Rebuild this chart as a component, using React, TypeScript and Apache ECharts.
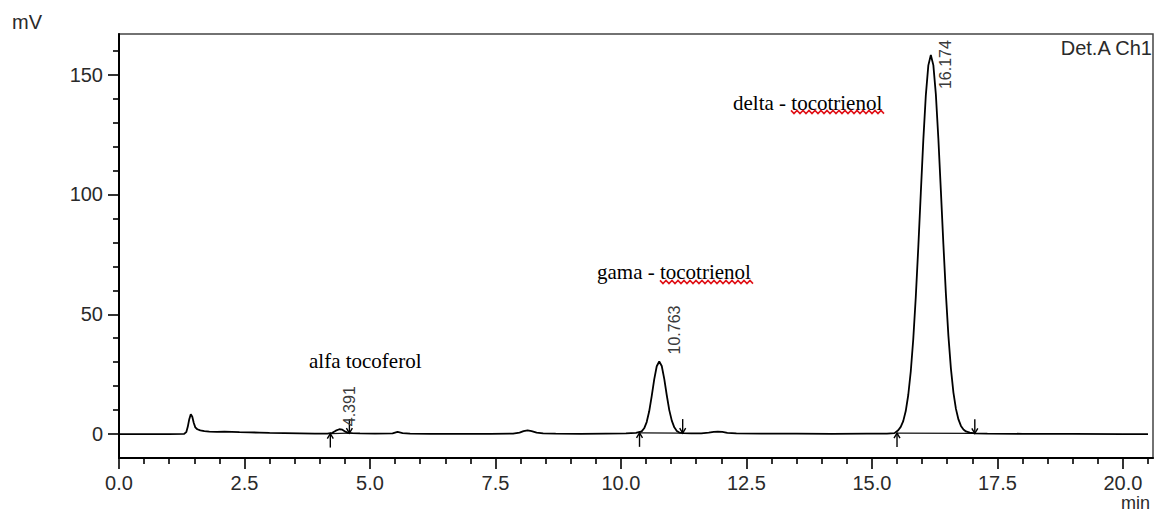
import React, { useEffect, useRef } from "react";
import * as echarts from "echarts";

// ---- axis ticks ----
const xMajorTicks = [0, 2.5, 5, 7.5, 10, 12.5, 15, 17.5, 20];
const xMinorTicks = [0.5, 1, 1.5, 2, 3, 3.5, 4, 4.5, 5.5, 6, 6.5, 7, 8, 8.5, 9, 9.5, 10.5, 11, 11.5, 12, 13, 13.5, 14, 14.5, 15.5, 16, 16.5, 17, 18, 18.5, 19, 19.5, 20.5];
const yMajorTicks = [0, 50, 100, 150];
const yMinorTicks = [10, 20, 30, 40, 60, 70, 80, 90, 110, 120, 130, 140, 160];

// ---- chromatogram trace: [time (min), signal (mV)] ----
const chromatogram: [number, number][] = [
  [0, 0], [0.5, 0], [1.0, 0], [1.3, 0.1], [1.34, 0.8], [1.37, 3.0], [1.4, 6.2], [1.43, 8.3], [1.46, 7.2],
  [1.49, 4.6], [1.52, 2.8], [1.56, 2.0], [1.62, 1.5], [1.7, 1.2], [1.8, 1.0], [1.95, 0.9], [2.1, 1.0],
  [2.25, 0.9], [2.4, 0.8], [2.6, 0.7], [2.8, 0.6], [3.0, 0.5], [3.3, 0.4], [3.6, 0.3], [3.9, 0.2],
  [4.15, 0.2], [4.25, 0.5], [4.32, 1.4], [4.39, 2.0], [4.45, 1.8], [4.51, 1.0], [4.56, 0.5], [4.65, 0.4],
  [4.8, 0.3], [5.1, 0.2], [5.45, 0.3], [5.55, 0.9], [5.65, 0.4], [5.8, 0.2], [6.2, 0.1], [6.8, 0.1],
  [7.4, 0.1], [7.85, 0.2], [7.98, 0.6], [8.06, 1.2], [8.14, 1.5], [8.22, 1.2], [8.32, 0.6], [8.45, 0.3],
  [8.7, 0.2], [9.2, 0.1], [9.7, 0.2], [10.1, 0.3], [10.3, 0.5],
  [10.413, 1.1], [10.463, 2.4], [10.513, 5.0], [10.563, 9.5], [10.613, 15.8], [10.663, 22.8], [10.713, 28.3],
  [10.763, 30.3], [10.813, 28.4], [10.863, 23.0], [10.913, 16.2], [10.963, 10.0], [11.013, 5.6],
  [11.063, 2.8], [11.113, 1.3], [11.163, 0.6], [11.25, 0.4], [11.4, 0.3], [11.6, 0.3], [11.75, 0.6],
  [11.85, 0.9], [11.93, 1.0], [12.02, 0.9], [12.12, 0.5], [12.3, 0.3], [12.8, 0.2], [13.5, 0.2],
  [14.2, 0.1], [14.9, 0.2], [15.3, 0.2], [15.45, 0.4],
  [15.524, 1.6], [15.574, 3.0], [15.624, 5.4], [15.674, 9.6], [15.724, 16.3], [15.774, 26.1], [15.824, 39.7],
  [15.874, 57.2], [15.924, 78.0], [15.974, 100.6], [16.024, 122.7], [16.074, 141.4], [16.124, 153.9],
  [16.174, 158.2], [16.224, 154.0], [16.274, 141.8], [16.324, 123.3], [16.374, 101.5], [16.424, 79.2],
  [16.474, 58.5], [16.524, 41.0], [16.574, 27.3], [16.624, 17.3], [16.674, 10.5], [16.724, 6.1],
  [16.774, 3.4], [16.824, 1.9], [16.874, 1.1], [16.95, 0.6], [17.05, 0.3], [17.3, 0.2], [18.0, 0.1],
  [19.0, 0.1], [20.0, 0.0], [20.5, 0.0],
];

// ---- peak table ----
const peakLabels = ["4.391", "10.763", "16.174"];
const peakTimes = [4.391, 10.763, 16.174];
const peakHeights = [2.0, 30.3, 158.2];
const peakStarts = [4.21, 10.37, 15.5];
const startLevels = [0.2, 0.5, 0.4];
const peakEnds = [4.59, 11.23, 17.05];
const endLevels = [0.4, 0.4, 0.3];
const compoundNames = ["alfa tocoferol", "gama - tocotrienol", "delta - tocotrienol"];

// ---- styling / layout (not data) ----
const SANS = '"Liberation Sans", Arial, Helvetica, sans-serif';
const SERIF = '"Liberation Serif", "Times New Roman", serif';
const rtLabelOffsets = [[10, -3], [15, -7], [15, 34]];
const namePos = [
  { left: 309, top: 350 },
  { left: 597, top: 261 },
  { left: 733, top: 92 },
];
const squiggles = [
  { x0: 660, x1: 753, y: 282 },
  { x0: 791, x1: 884, y: 112 },
];

function wave(x0: number, x1: number, y: number): number[][] {
  const pts: number[][] = [];
  let k = 0;
  for (let x = x0; x <= x1; x += 3) {
    pts.push([x, y + (k % 2 === 0 ? -1.6 : 1.6)]);
    k++;
  }
  return pts;
}

export default function App() {
  const ref = useRef<HTMLDivElement>(null);
  useEffect(() => {
    if (!ref.current) return;
    const chart = echarts.init(ref.current, undefined, { renderer: "svg" });

    const arrowData: number[][] = [
      ...peakStarts.map((t, i) => [t, startLevels[i], 1]),
      ...peakEnds.map((t, i) => [t, endLevels[i], -1]),
    ];
    const baselineSeries = peakStarts.map((t, i) => ({
      type: "line",
      data: [[t, startLevels[i]], [peakEnds[i], endLevels[i]]],
      showSymbol: false,
      silent: true,
      lineStyle: { color: "#111", width: 1.2 },
      z: 2,
    }));

    const graphic: any[] = [
      { type: "text", left: 12, top: 12, style: { text: "mV", fontSize: 20, fontFamily: SANS, fill: "#2a2a2a" } },
      { type: "text", right: 3, top: 38, style: { text: "Det.A Ch1", fontSize: 20, fontFamily: SANS, fill: "#2a2a2a" } },
      { type: "text", left: 1121, top: 494, style: { text: "min", fontSize: 18, fontFamily: SANS, fill: "#2a2a2a" } },
      ...compoundNames.map((n, i) => ({
        type: "text",
        left: namePos[i].left,
        top: namePos[i].top,
        style: { text: n, fontSize: 21, fontFamily: SERIF, fill: "#000" },
      })),
      ...squiggles.map((s) => ({
        type: "polyline",
        shape: { points: wave(s.x0, s.x1, s.y) },
        style: { stroke: "#e0141a", lineWidth: 1.6, fill: "none" },
      })),
    ];

    chart.setOption({
      animation: false,
      backgroundColor: "#fff",
      grid: { left: 119, right: 3, top: 34, bottom: 55, show: true, borderColor: "#444", borderWidth: 1.5 },
      xAxis: [
        {
          type: "value", min: 0, max: 20.6, position: "bottom",
          axisLine: { show: true, onZero: false, lineStyle: { color: "#000", width: 2 } },
          axisTick: { show: true, customValues: xMajorTicks, length: 11, lineStyle: { color: "#000", width: 1.6 } },
          axisLabel: { show: true, customValues: xMajorTicks, margin: 15, fontSize: 20, fontFamily: SANS, color: "#2a2a2a", formatter: (v: number) => v.toFixed(1) },
          splitLine: { show: false },
        },
        {
          type: "value", min: 0, max: 20.6, position: "bottom",
          axisLine: { show: false, onZero: false },
          axisTick: { show: true, customValues: xMinorTicks, length: 6, lineStyle: { color: "#000", width: 1.6 } },
          axisLabel: { show: false },
          splitLine: { show: false },
        },
      ],
      yAxis: [
        {
          type: "value", min: -10, max: 167, position: "left",
          axisLine: { show: true, onZero: false, lineStyle: { color: "#000", width: 2 } },
          axisTick: { show: true, customValues: yMajorTicks, length: 11, lineStyle: { color: "#000", width: 1.6 } },
          axisLabel: { show: true, customValues: yMajorTicks, margin: 16, fontSize: 20, fontFamily: SANS, color: "#2a2a2a" },
          splitLine: { show: false },
        },
        {
          type: "value", min: -10, max: 167, position: "left",
          axisLine: { show: false, onZero: false },
          axisTick: { show: true, customValues: yMinorTicks, length: 6, lineStyle: { color: "#000", width: 1.6 } },
          axisLabel: { show: false },
          splitLine: { show: false },
        },
      ],
      series: [
        {
          type: "line",
          data: chromatogram,
          showSymbol: false,
          silent: true,
          lineStyle: { color: "#000", width: 1.8 },
          z: 3,
        },
        ...baselineSeries,
        {
          type: "custom",
          data: arrowData,
          silent: true,
          z: 4,
          renderItem: (params: any, api: any) => {
            const p = api.coord([api.value(0), api.value(1)]);
            const dir = api.value(2);
            const x = p[0];
            const y = p[1];
            const tail = dir > 0 ? y + 14 : y - 14;
            const hy = dir > 0 ? y + 5 : y - 5;
            return {
              type: "group",
              children: [
                { type: "line", shape: { x1: x, y1: tail, x2: x, y2: y }, style: { stroke: "#000", lineWidth: 1.4 } },
                { type: "polyline", shape: { points: [[x - 3, hy], [x, y], [x + 3, hy]] }, style: { stroke: "#000", lineWidth: 1.4, fill: "none" } },
              ],
            };
          },
        },
        {
          type: "custom",
          data: peakTimes.map((t, i) => [t, peakHeights[i]]),
          silent: true,
          z: 5,
          renderItem: (params: any, api: any) => {
            const i = params.dataIndex;
            const p = api.coord([api.value(0), api.value(1)]);
            const off = rtLabelOffsets[i];
            return {
              type: "text",
              x: p[0] + off[0],
              y: p[1] + off[1],
              rotation: Math.PI / 2,
              style: {
                text: peakLabels[i],
                fill: "#3a3a3a",
                fontSize: 16,
                fontFamily: SANS,
                align: "left",
                verticalAlign: "middle",
              },
            };
          },
        },
      ],
      graphic,
    });
    return () => chart.dispose();
  }, []);

  return <div ref={ref} style={{ position: "fixed", left: 0, top: 0, width: 1156, height: 513 }} />;
}
